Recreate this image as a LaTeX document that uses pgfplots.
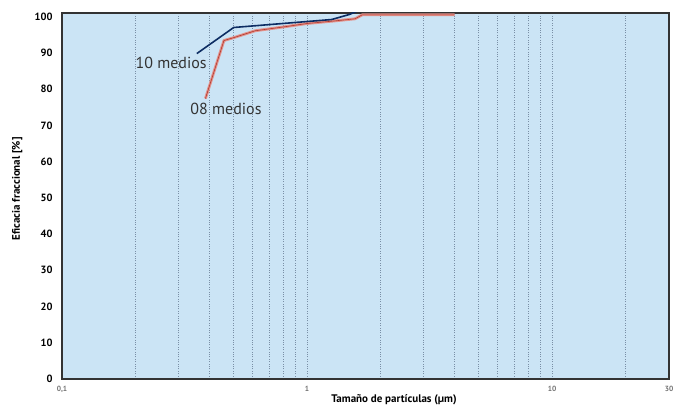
\documentclass[border=0pt]{standalone}
\usepackage{pgfplots}
\pgfplotsset{compat=1.18}
\usepackage{fontspec}
\setmainfont{PT Sans}
\definecolor{bgblue}{HTML}{CBE4F5}
\definecolor{navy}{HTML}{0D2D63}
\definecolor{salmon}{HTML}{E3918A}
\definecolor{darkred}{HTML}{B03A30}
\definecolor{gridc}{HTML}{7A8FA6}
\begin{document}
\begin{tikzpicture}
\begin{axis}[
  scale only axis,
  width=607pt, height=366pt,
  xmode=log,
  xmin=0.1, xmax=30,
  ymin=0, ymax=101,
  axis background/.style={fill=bgblue},
  axis line style={draw=black!80, line width=1.5pt},
  xtick={0.1,1,10,30},
  xticklabels={0{,}1,1,10,30},
  minor xtick={0.2,0.3,0.4,0.5,0.6,0.7,0.8,0.9,2,3,4,5,6,7,8,9,20},
  xmajorgrids, xminorgrids,
  major grid style={gridc, line width=1pt, dash pattern=on 1pt off 1.4pt},
  minor grid style={gridc, line width=1pt, dash pattern=on 1pt off 1.4pt},
  ytick={0,10,...,100},
  major tick length=0pt, minor tick length=0pt,
  /pgf/number format/assume math mode=true,
  yticklabel style={font=\fontsize{10.5}{11}\selectfont\bfseries, xshift=-6pt},
  xticklabel style={font=\fontsize{7.5}{8}\selectfont\bfseries, text=black!55, yshift=-4pt},
  log ticks with fixed point,
  xlabel={Tamaño de partículas (µm)},
  ylabel={Eficacia fraccional [\%]},
  xlabel style={font=\fontsize{11}{12}\selectfont\bfseries, at={(rel axis cs:0.547,0)}, anchor=north, yshift=-12pt},
  ylabel style={font=\fontsize{11}{12}\selectfont\bfseries, at={(rel axis cs:0,0.52)}, anchor=south, yshift=36pt},
  clip=true,
]
% 08 medios
\addplot[salmon, line width=2.8pt, line join=round] coordinates {
  (0.385,77.4) (0.458,93.4) (0.502,94.2) (0.615,96.1) (0.81,97.2)
  (1.0,98.1) (1.29,98.8) (1.57,99.4) (1.68,100.5) (4.0,100.5)
};
\addplot[darkred, line width=0.6pt, line join=round] coordinates {
  (0.385,77.4) (0.458,93.4) (0.502,94.2) (0.615,96.1) (0.81,97.2)
  (1.0,98.1) (1.29,98.8) (1.57,99.4) (1.68,100.5) (4.0,100.5)
};
% 10 medios
\addplot[navy, line width=1.6pt, line join=round] coordinates {
  (0.355,89.8) (0.502,97.0) (1.26,99.2) (1.49,100.6) (1.6,101.5)
};
\node[font=\fontsize{16}{18}\selectfont, text=black!80] at (axis cs:0.279,87.2) {10 medios};
\node[font=\fontsize{16}{18}\selectfont, text=black!80] at (axis cs:0.467,74.4) {08 medios};
\end{axis}
\pgfresetboundingbox
\path ([shift={(-62pt,-31pt)}]current axis.south west) rectangle ([shift={(8pt,13pt)}]current axis.north east);
\end{tikzpicture}
\end{document}
